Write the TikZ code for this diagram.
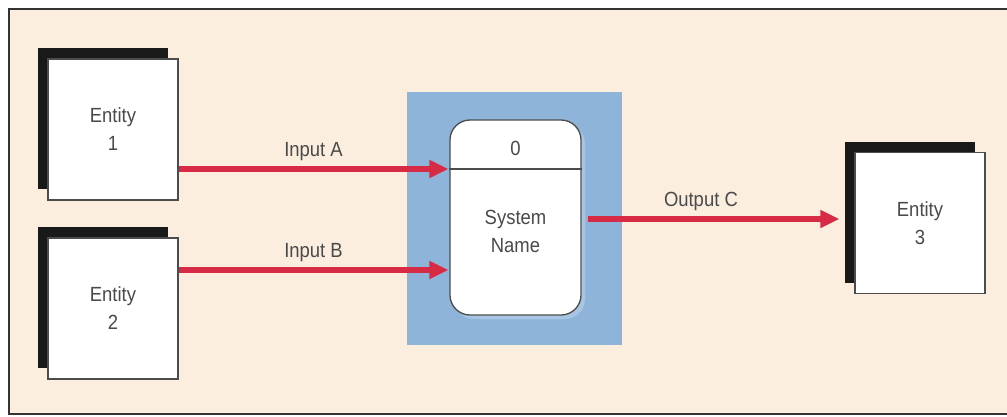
\documentclass[tikz,border=0pt]{standalone}
\usepackage{fontspec}
\setmainfont{Liberation Sans}
\newfontfamily\lblfont[FakeStretch=0.9]{Liberation Sans}
\usetikzlibrary{arrows.meta,shadows,calc}
\definecolor{peach}{HTML}{FCEEDF}
\definecolor{sysblue}{HTML}{8EB5D9}
\definecolor{sysshade}{HTML}{A8C6E3}
\definecolor{flowred}{HTML}{D62A45}
\definecolor{txtgray}{HTML}{4A4A4A}
\begin{document}
\begin{tikzpicture}[x=1pt,y=-1pt,
  lbl/.style={font=\lblfont\fontsize{20.5}{28}\selectfont, text=txtgray, align=center},
  entity/.style={draw=black!70, line width=1.3pt, fill=white, minimum width=130pt, minimum height=141pt,
    inner sep=0pt, general shadow={fill=black!90, shadow xshift=-10pt, shadow yshift=11pt},
    lbl},
  flow/.style={draw=flowred, line width=5.5pt, -{Triangle[length=19pt,width=17pt]}},
  sysbox/.style={draw=black!70, line width=1.3pt, fill=white, rounded corners=20pt,
    minimum width=131pt, minimum height=195pt, inner sep=0pt,
    general shadow={fill=sysshade, shadow xshift=4pt, shadow yshift=-4pt}}
]
\useasboundingbox (0,0) rectangle (1007,416);
\fill[white] (0,0) rectangle (1007,416);
\node[draw=black!80, line width=1.5pt, fill=peach, minimum width=1010pt, minimum height=405pt, inner sep=0pt, anchor=north west] (frame) at (8,8) {};

\node[fill=sysblue, minimum width=215pt, minimum height=253pt, inner sep=0pt] (bluebg) at (514.5,218.5) {};
\node[sysbox] (sys) at (515.5,217.5) {};
\coordinate (sepL) at (sys.west |- 0,169);
\coordinate (sepR) at (sys.east |- 0,169);
\draw[black!70, line width=1.3pt] (sepL) -- (sepR);
\node[lbl] (zero) at (515.5,148) {0};
\node[lbl] (sname) at (515.5,231) {System\\Name};

\node[entity] (e1) at (113,129.5) {Entity\\1};
\node[entity] (e2) at (113,308.5) {Entity\\2};
\node[entity] (e3) at (920,223) {Entity\\3};

\coordinate (bY) at (0,270);
\coordinate (cY) at (0,219);

\draw[flow] (e1.east |- sepL) -- node[lbl, above=2pt, pos=0.5] (inA) {Input A} ([xshift=-1pt]sepL);
\draw[flow] (e2.east |- bY) -- node[lbl, above=2pt, pos=0.5] (inB) {Input B} ([xshift=-1pt]sys.west |- bY);
\draw[flow] ([xshift=6pt]sys.east |- cY) -- node[lbl, above=2pt, pos=0.45] (outC) {Output C} ([xshift=-15pt]e3.west |- cY);
\end{tikzpicture}
\end{document}
